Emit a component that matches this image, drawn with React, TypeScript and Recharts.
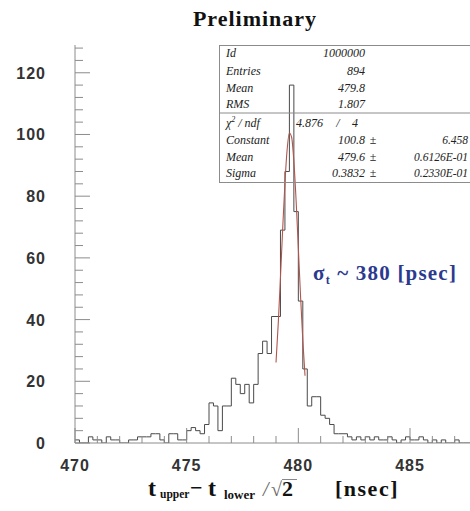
import { ComposedChart, Line, XAxis, YAxis } from 'recharts';

// histogram: 0.2 nsec bins starting at 470 nsec
const binStart = 470;
const binWidth = 0.2;
const binCounts = [
  1, 0, 0, 2, 1, 1, 0, 2, 1, 1, 0, 0, 1, 1, 2, 2, 2, 3, 3, 1, 0, 3, 3, 1, 1,
  4, 5, 4, 3, 6, 13, 12, 4, 12, 12, 21, 19, 16, 19, 13, 19, 29, 33, 29, 41, 41, 69, 88,
  116, 75, 46, 24, 12, 15, 15, 9, 8, 6, 3, 3, 3,
  2, 1, 2, 1, 2, 1, 2, 1, 1, 2, 1, 0, 1, 2, 1, 1, 2, 1, 0, 1, 0, 1, 0, 0, 1, 0, 0, 0, 1, 0,
];

// gaussian fit
const fitX = [479.0, 479.1, 479.2, 479.3, 479.4, 479.5, 479.6, 479.7, 479.8, 479.9, 480.0, 480.1, 480.2, 480.3];
const fitY = [26.1, 38.7, 53.7, 69.5, 84.2, 95.2, 100.5, 99.1, 91.3, 78.6, 63.2, 47.5, 33.3, 21.8];

const xTicks = [470, 471, 472, 473, 474, 475, 476, 477, 478, 479, 480, 481, 482, 483, 484, 485, 486, 487, 488];
const yTicks = [0, 4, 8, 12, 16, 20, 24, 28, 32, 36, 40, 44, 48, 52, 56, 60, 64, 68, 72, 76, 80, 84, 88, 92, 96, 100, 104, 108, 112, 116, 120, 124, 128];

const statsTop = [
  ['Id', '1000000'],
  ['Entries', '894'],
  ['Mean', '479.8'],
  ['RMS', '1.807'],
];
const statsFit = [
  ['Constant', '100.8', '6.458'],
  ['Mean', '479.6', '0.6126E-01'],
  ['Sigma', '0.3832', '0.2330E-01'],
];

const histData = binCounts.map((c, i) => ({ x: binStart + i * binWidth, y: c }));
histData.push({ x: binStart + binCounts.length * binWidth, y: binCounts[binCounts.length - 1] });
const fitData = fitX.map((x, i) => ({ x, y: fitY[i] }));

const frame = '#8c8c8c';
const labelFont = '"Liberation Sans", Arial, sans-serif';
const serif = '"Liberation Serif", "Times New Roman", serif';

function BottomTick(props: any) {
  const { x, y, payload } = props;
  const major = payload.value % 5 === 0;
  return (
    <g>
      <line x1={x} y1={y} x2={x} y2={y - (major ? 15 : 7)} stroke={frame} />
      {major && (
        <text x={x} y={y + 28} textAnchor="middle" fontFamily={labelFont} fontWeight="bold" fontSize={16} letterSpacing={1} fill="#333">
          {payload.value}
        </text>
      )}
    </g>
  );
}

function TopTick(props: any) {
  const { x, y, payload } = props;
  const major = payload.value % 5 === 0;
  return <line x1={x} y1={y} x2={x} y2={y + (major ? 15 : 7)} stroke={frame} />;
}

function LeftTick(props: any) {
  const { x, y, payload } = props;
  const major = payload.value % 20 === 0;
  return (
    <g>
      <line x1={x} y1={y} x2={x + (major ? 15 : 8)} y2={y} stroke={frame} />
      {major && (
        <text x={46} y={y + 6} textAnchor="end" fontFamily={labelFont} fontWeight="bold" fontSize={16} letterSpacing={1} fill="#333">
          {payload.value}
        </text>
      )}
    </g>
  );
}

function RightTick(props: any) {
  const { x, y, payload } = props;
  const major = payload.value % 20 === 0;
  return <line x1={x} y1={y} x2={x - (major ? 15 : 8)} y2={y} stroke={frame} />;
}

export default function App() {
  const rowY = [57, 75, 92, 108];
  const fitRowY = [144, 161, 177];
  return (
    <div style={{ position: 'absolute', left: 0, top: 0, width: 470, height: 511, overflow: 'hidden', background: '#fff' }}>
      <ComposedChart width={480} height={511} margin={{ top: 45, right: 3, bottom: 38, left: 0 }}>
        <XAxis
          xAxisId="bottom"
          type="number"
          dataKey="x"
          domain={[470, 488]}
          ticks={xTicks}
          interval={0}
          allowDataOverflow
          height={30}
          tickSize={0}
          tickMargin={0}
          tickLine={false}
          axisLine={{ stroke: frame }}
          tick={BottomTick}
        />
        <XAxis
          xAxisId="top"
          orientation="top"
          type="number"
          dataKey="x"
          domain={[470, 488]}
          ticks={xTicks}
          interval={0}
          allowDataOverflow
          height={0}
          tickSize={0}
          tickMargin={0}
          tickLine={false}
          axisLine={{ stroke: frame }}
          tick={TopTick}
        />
        <YAxis
          yAxisId="left"
          type="number"
          domain={[0, 129]}
          ticks={yTicks}
          interval={0}
          allowDataOverflow
          width={75}
          tickSize={0}
          tickMargin={0}
          tickLine={false}
          axisLine={{ stroke: frame }}
          tick={LeftTick}
        />
        <YAxis
          yAxisId="right"
          orientation="right"
          type="number"
          domain={[0, 129]}
          ticks={yTicks}
          interval={0}
          allowDataOverflow
          width={0}
          tickSize={0}
          tickMargin={0}
          tickLine={false}
          axisLine={{ stroke: frame }}
          tick={RightTick}
        />
        <Line
          xAxisId="bottom"
          yAxisId="left"
          data={histData}
          dataKey="y"
          type="stepAfter"
          stroke="#4a4a4a"
          strokeWidth={1}
          dot={false}
          activeDot={false}
          isAnimationActive={false}
        />
        <Line
          xAxisId="bottom"
          yAxisId="left"
          data={fitData}
          dataKey="y"
          type="monotone"
          stroke="#b0564c"
          strokeWidth={1.1}
          dot={false}
          activeDot={false}
          isAnimationActive={false}
        />
      </ComposedChart>

      <svg width={470} height={511} style={{ position: 'absolute', left: 0, top: 0, pointerEvents: 'none' }}>
        <text x={255} y={26} textAnchor="middle" fontFamily={serif} fontWeight="bold" fontSize={22} letterSpacing={1} fill="#111">
          Preliminary
        </text>

        {/* stats box */}
        <rect x={219.5} y={45.5} width={270} height={137} fill="none" stroke={frame} />
        <line x1={219.5} y1={113} x2={470} y2={113} stroke={frame} />
        <g fontFamily={serif} fontStyle="italic" fontSize={12} fill="#222">
          {statsTop.map(([k, v], i) => (
            <g key={k + i}>
              <text x={226} y={rowY[i]}>{k}</text>
              <text x={365} y={rowY[i]} textAnchor="end">{v}</text>
            </g>
          ))}
          <text x={226} y={127}>
            χ<tspan fontSize={8} dy={-5}>2</tspan>
            <tspan dy={5}> / ndf</tspan>
          </text>
          <text x={323} y={127} textAnchor="end">4.876</text>
          <text x={338} y={127} textAnchor="middle">/</text>
          <text x={358} y={127} textAnchor="end">4</text>
          {statsFit.map(([k, v, e], i) => (
            <g key={k + i}>
              <text x={226} y={fitRowY[i]}>{k}</text>
              <text x={365} y={fitRowY[i]} textAnchor="end">{v}</text>
              <text x={373} y={fitRowY[i]} textAnchor="middle" fontStyle="normal">±</text>
              <text x={468} y={fitRowY[i]} textAnchor="end" fontSize={11.5}>{e}</text>
            </g>
          ))}
        </g>

        {/* resolution label */}
        <text x={313} y={280} fontFamily={serif} fontWeight="bold" fontSize={21} letterSpacing={1.2} fill="#2b3a8f">
          σ<tspan fontSize={12} dy={4}>t</tspan>
          <tspan dy={-4}> ~ 380 [psec]</tspan>
        </text>

        {/* x axis title */}
        <g fontFamily={serif} fontWeight="bold" fill="#111">
          <text x={148} y={496} fontSize={24}>t</text>
          <text x={160} y={498} fontSize={11.5}>upper</text>
          <text x={190} y={495} fontSize={22}>−</text>
          <text x={208} y={496} fontSize={24}>t</text>
          <text x={224} y={499} fontSize={13}>lower</text>
          <text x={263} y={496} fontSize={20} fontWeight="normal" fontStyle="italic" fill="#666">/</text>
          <text x={271} y={496} fontSize={20} fontWeight="normal" fill="#666">√</text>
          <line x1={282} y1={479.5} x2={297} y2={479.5} stroke="#888" />
          <text x={282} y={496} fontSize={22}>2</text>
          <text x={335} y={496} fontSize={22} letterSpacing={1.5}>[nsec]</text>
        </g>
      </svg>
    </div>
  );
}
